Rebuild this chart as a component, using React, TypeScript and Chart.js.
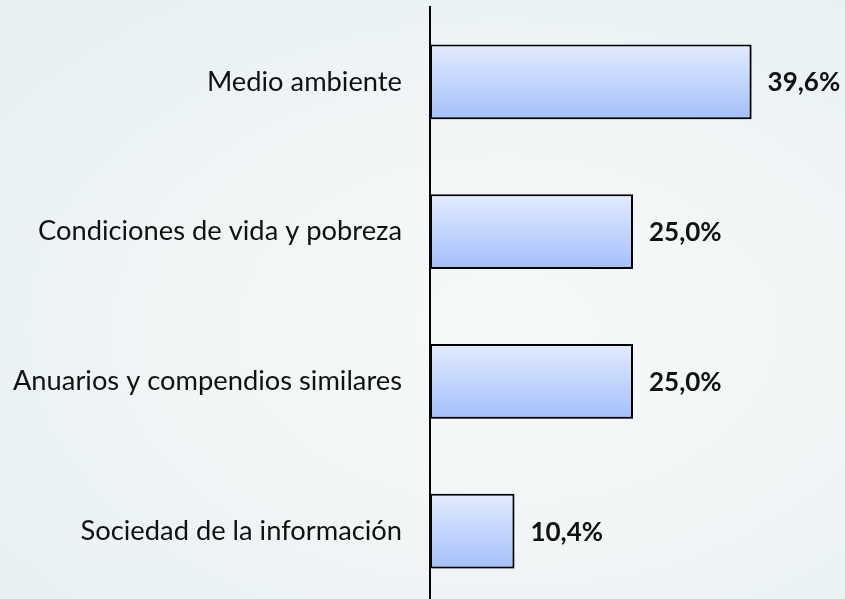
import React, { useEffect, useRef } from "react";
import { Chart, registerables } from "chart.js";

Chart.register(...registerables);

const categories = [
  "Medio ambiente",
  "Condiciones de vida y pobreza",
  "Anuarios y compendios similares",
  "Sociedad de la información",
];
const values = [39.6, 25.0, 25.0, 10.4];
const valueLabels = ["39,6%", "25,0%", "25,0%", "10,4%"];

const FONT = "Lato, 'Open Sans', sans-serif";

export default function App() {
  const ref = useRef<HTMLCanvasElement | null>(null);

  useEffect(() => {
    if (!ref.current) return;

    const shadowPlugin = {
      id: "barShadow",
      beforeDatasetDraw(chart: any) {
        const ctx = chart.ctx;
        ctx.save();
        ctx.shadowColor = "rgba(0,0,0,0.35)";
        ctx.shadowOffsetX = 2;
        ctx.shadowOffsetY = 2;
        ctx.shadowBlur = 3;
      },
      afterDatasetDraw(chart: any) {
        chart.ctx.restore();
      },
    };

    const labelPlugin = {
      id: "valueLabels",
      afterDatasetsDraw(chart: any) {
        const ctx = chart.ctx;
        const meta = chart.getDatasetMeta(0);
        ctx.save();
        ctx.font = `bold 26px ${FONT}`;
        ctx.fillStyle = "#111111";
        ctx.textAlign = "left";
        ctx.textBaseline = "middle";
        meta.data.forEach((bar: any, i: number) => {
          ctx.fillText(valueLabels[i], bar.x + 16, bar.y + 1);
        });
        ctx.restore();
      },
    };

    const chart = new Chart(ref.current, {
      type: "bar",
      data: {
        labels: categories,
        datasets: [
          {
            data: values,
            backgroundColor: (c: any) => {
              const ch = c.chart;
              const ys = ch.scales && ch.scales.y;
              if (!ys || c.dataIndex === undefined) return "#c2d5fc";
              const center = ys.getPixelForValue(c.dataIndex);
              if (!Number.isFinite(center)) return "#c2d5fc";
              const half = 37.5;
              const g = ch.ctx.createLinearGradient(0, center - half, 0, center + half);
              g.addColorStop(0, "#e3ecff");
              g.addColorStop(1, "#a3bffa");
              return g;
            },
            borderColor: "#000000",
            borderWidth: 2,
            borderSkipped: false,
            barPercentage: 0.5,
            categoryPercentage: 1,
          },
        ],
      },
      options: {
        indexAxis: "y",
        animation: false,
        responsive: true,
        maintainAspectRatio: false,
        layout: { padding: { top: 7, right: 9, left: 0, bottom: 0 } },
        plugins: {
          legend: { display: false },
          tooltip: { enabled: false },
        },
        scales: {
          x: {
            display: false,
            min: 0,
            max: 50,
          },
          y: {
            grid: { display: false, drawTicks: false },
            border: { display: true, color: "#000000", width: 2 },
            ticks: {
              color: "#111111",
              font: { family: FONT, size: 27.3 },
              padding: 28,
            },
            afterFit: (scale: any) => {
              scale.width = 430;
              scale.paddingTop = 0;
              scale.paddingBottom = 0;
            },
          },
        },
      },
      plugins: [shadowPlugin, labelPlugin],
    });

    return () => chart.destroy();
  }, []);

  return (
    <div
      style={{
        position: "fixed",
        left: 0,
        top: 0,
        width: 845,
        height: 599,
        overflow: "hidden",
        background:
          "radial-gradient(ellipse at 60% 55%, #f6f9f9 0%, #f0f5f6 50%, #e6eff1 100%)",
      }}
    >
      <div style={{ position: "relative", width: 845, height: 606 }}>
        <canvas ref={ref} />
      </div>
    </div>
  );
}
